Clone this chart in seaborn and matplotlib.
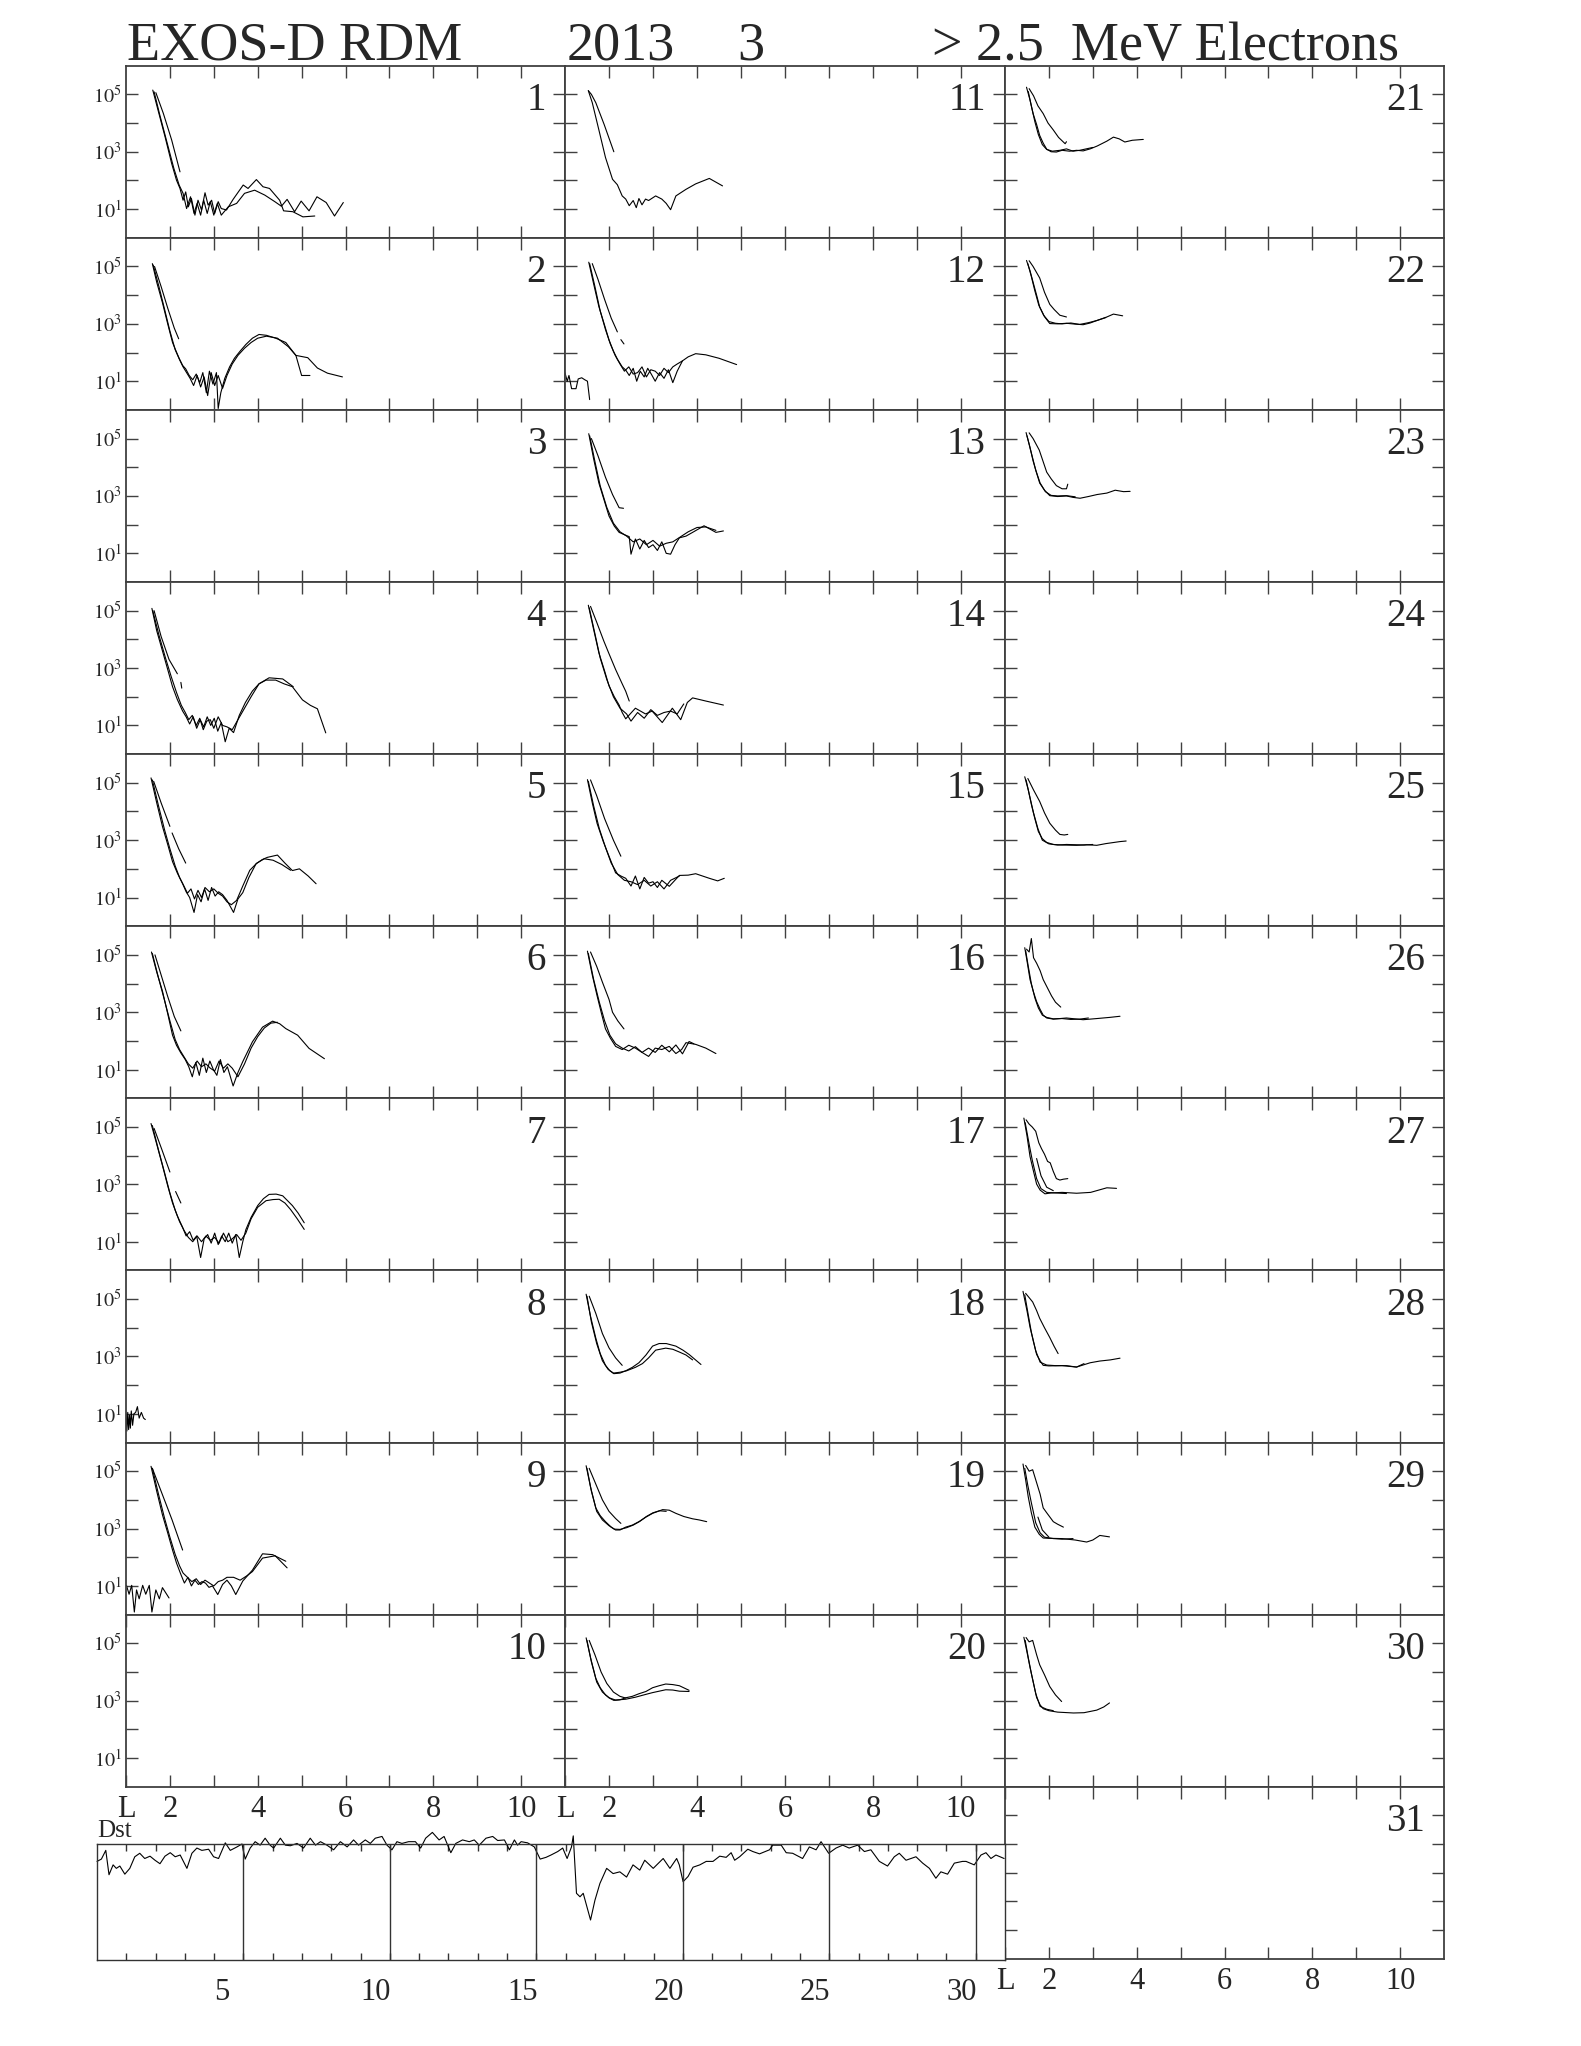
import numpy as np
import matplotlib
matplotlib.use("Agg")
import matplotlib.pyplot as plt
from matplotlib.ticker import NullLocator
import seaborn as sns

# flux profiles per day: (L values, log10 flux)
day01 = [
    ([1.61, 1.73, 1.89, 2.04, 2.15, 2.23, 2.30, 2.36, 2.42, 2.49, 2.57, 2.64, 2.72, 2.80, 2.87, 2.95, 3.02, 3.10, 3.17, 3.29, 3.44, 3.67, 3.78, 3.97, 4.12, 4.27, 4.50, 4.59, 4.80, 5.03, 5.30],
     [5.15, 4.45, 3.52, 2.59, 2.01, 1.72, 1.31, 1.60, 1.08, 1.37, 0.79, 1.31, 0.97, 1.57, 1.14, 1.31, 0.85, 1.26, 1.02, 0.97, 1.34, 1.84, 1.72, 2.03, 1.78, 1.72, 1.31, 0.94, 0.91, 0.73, 0.76]),
    ([1.64, 1.77, 1.94, 2.09, 2.21, 2.30, 2.38, 2.47, 2.55, 2.62, 2.70, 2.77, 2.85, 2.92, 3.00, 3.08, 3.17, 3.33, 3.52, 3.70, 3.93, 4.16, 4.39, 4.54, 4.67, 4.84, 4.99, 5.17, 5.35, 5.56, 5.75, 5.95],
     [5.09, 4.28, 3.29, 2.42, 1.84, 1.55, 1.02, 1.43, 0.85, 1.20, 0.79, 1.31, 0.85, 1.26, 0.79, 1.20, 0.79, 1.08, 1.20, 1.55, 1.66, 1.49, 1.26, 1.10, 1.34, 0.91, 1.28, 0.94, 1.43, 1.23, 0.76, 1.23]),
    ([1.68, 1.85, 2.04, 2.23], [5.06, 4.34, 3.41, 2.30]),
]
day02 = [
    ([1.6, 1.7, 1.83, 1.95, 2.06, 2.14, 2.21, 2.29, 2.36, 2.44, 2.52, 2.6, 2.68, 2.75, 2.83, 2.9, 2.98, 3.06, 3.1, 3.16, 3.25, 3.36, 3.47, 3.6, 3.73, 3.88, 4.03, 4.2, 4.41, 4.64, 4.87, 5.0, 5.19],
     [5.1, 4.45, 3.74, 3.0, 2.35, 2.05, 1.8, 1.55, 1.43, 1.2, 1.05, 1.25, 0.95, 1.3, 0.6, 1.35, 0.9, 1.3, 0.05, 0.6, 1.1, 1.5, 1.8, 2.05, 2.28, 2.5, 2.63, 2.6, 2.5, 2.35, 1.9, 1.2, 1.2]),
    ([1.62, 1.75, 1.88, 2.0, 2.12, 2.22, 2.3, 2.38, 2.46, 2.54, 2.62, 2.7, 2.78, 2.86, 2.94, 3.02, 3.1, 3.2, 3.3, 3.42, 3.55, 3.7, 3.85, 4.0, 4.2, 4.45, 4.7, 4.87, 5.14, 5.36, 5.59, 5.93],
     [5.05, 4.3, 3.5, 2.75, 2.1, 1.75, 1.5, 1.3, 1.1, 0.85, 1.2, 0.8, 1.15, 0.5, 1.3, 0.85, 1.2, 0.75, 1.2, 1.6, 1.9, 2.15, 2.35, 2.5, 2.57, 2.5, 2.2, 1.9, 1.82, 1.46, 1.28, 1.15]),
    ([1.65, 1.8, 1.95, 2.1, 2.2], [5.0, 4.3, 3.55, 2.85, 2.48]),
]
day03 = []
day04 = [
    ([1.59, 1.7, 1.83, 1.95, 2.06, 2.17, 2.29, 2.37, 2.45, 2.53, 2.61, 2.69, 2.77, 2.85, 2.93, 3.01, 3.09, 3.17, 3.26, 3.35, 3.45, 3.58, 3.72, 3.88, 4.03, 4.19, 4.41, 4.6, 4.79, 5.02, 5.2, 5.36, 5.55],
     [5.08, 4.3, 3.6, 2.95, 2.35, 1.9, 1.5, 1.3, 1.05, 1.3, 0.9, 1.2, 0.95, 1.3, 1.0, 1.25, 0.8, 1.1, 0.43, 0.9, 0.75, 1.35, 1.8, 2.2, 2.45, 2.58, 2.58, 2.45, 2.35, 1.89, 1.7, 1.58, 0.74]),
    ([1.61, 1.75, 1.9, 2.03, 2.15, 2.26, 2.35, 2.43, 2.51, 2.6, 2.68, 2.76, 2.84, 2.92, 3.0, 3.1, 3.2, 3.3, 3.42, 3.55, 3.7, 3.85, 4.03, 4.26, 4.57, 4.81],
     [5.0, 4.15, 3.35, 2.7, 2.15, 1.7, 1.45, 1.2, 1.35, 1.0, 1.25, 0.85, 1.15, 1.2, 0.9, 1.3, 1.0, 0.95, 0.85, 1.2, 1.6, 2.0, 2.45, 2.66, 2.62, 2.35]),
    ([1.64, 1.8, 1.98, 2.17], [5.0, 4.1, 3.3, 2.8]),
    ([2.25, 2.27], [2.5, 2.3]),
]
day05 = [
    ([1.57, 1.7, 1.83, 1.95, 2.06, 2.17, 2.29, 2.37, 2.45, 2.55, 2.63, 2.71, 2.79, 2.87, 2.95, 3.03, 3.11, 3.2, 3.3, 3.45, 3.55, 3.66, 3.8, 3.96, 4.1, 4.22, 4.45, 4.62, 4.79, 4.95, 5.15, 5.33],
     [5.17, 4.3, 3.48, 2.85, 2.25, 1.85, 1.48, 1.2, 1.0, 0.48, 1.1, 0.85, 1.3, 0.9, 1.35, 1.05, 1.2, 1.1, 0.9, 0.48, 0.95, 1.17, 1.7, 2.17, 2.32, 2.4, 2.48, 2.2, 1.94, 2.0, 1.75, 1.48]),
    ([1.6, 1.74, 1.88, 2.0, 2.12, 2.22, 2.32, 2.4, 2.48, 2.56, 2.64, 2.72, 2.8, 2.9, 3.0, 3.1, 3.2, 3.3, 3.4, 3.52, 3.66, 3.82, 3.98, 4.15, 4.35, 4.55, 4.75],
     [5.1, 4.2, 3.35, 2.7, 2.1, 1.7, 1.4, 1.15, 1.3, 0.95, 1.25, 1.0, 1.35, 1.2, 1.3, 1.15, 1.05, 0.85, 0.75, 0.9, 1.4, 1.95, 2.2, 2.35, 2.3, 2.15, 1.95]),
    ([1.63, 1.8, 2.0], [5.05, 4.3, 3.48]),
    ([2.05, 2.2, 2.36], [3.25, 2.7, 2.2]),
]
day06 = [
    ([1.58, 1.7, 1.83, 1.95, 2.06, 2.15, 2.25, 2.35, 2.43, 2.51, 2.59, 2.67, 2.75, 2.83, 2.91, 2.99, 3.07, 3.15, 3.23, 3.31, 3.44, 3.55, 3.66, 3.88, 4.11, 4.34, 4.5, 4.64, 4.91, 5.17, 5.52],
     [5.1, 4.4, 3.74, 2.95, 2.2, 1.85, 1.58, 1.35, 1.1, 0.75, 1.25, 0.8, 1.4, 0.9, 1.3, 1.0, 0.8, 1.35, 0.9, 1.1, 0.43, 0.9, 1.28, 1.97, 2.48, 2.69, 2.6, 2.43, 2.2, 1.74, 1.38]),
    ([1.6, 1.74, 1.88, 2.0, 2.12, 2.22, 2.32, 2.42, 2.52, 2.62, 2.72, 2.82, 2.92, 3.02, 3.12, 3.22, 3.32, 3.42, 3.55, 3.7, 3.85, 4.0, 4.15, 4.3, 4.45],
     [5.05, 4.2, 3.4, 2.7, 2.05, 1.7, 1.45, 1.2, 1.05, 1.3, 1.1, 1.2, 1.05, 0.95, 1.3, 1.05, 1.2, 1.05, 0.75, 1.2, 1.75, 2.15, 2.45, 2.62, 2.65]),
    ([1.66, 1.8, 1.95, 2.1, 2.25], [5.0, 4.3, 3.55, 2.85, 2.35]),
]
day07 = [
    ([1.57, 1.7, 1.83, 1.95, 2.06, 2.17, 2.29, 2.37, 2.45, 2.53, 2.61, 2.7, 2.78, 2.86, 2.94, 3.02, 3.1, 3.18, 3.26, 3.34, 3.42, 3.5, 3.58, 3.66, 3.73, 3.85, 4.0, 4.13, 4.26, 4.42, 4.57, 4.79, 4.92, 5.06],
     [5.12, 4.4, 3.66, 2.95, 2.35, 1.9, 1.5, 1.2, 1.35, 1.05, 1.2, 0.45, 1.1, 1.25, 0.95, 1.3, 0.9, 1.2, 1.0, 1.3, 0.95, 1.25, 0.45, 1.0, 1.42, 1.85, 2.26, 2.5, 2.65, 2.66, 2.6, 2.26, 2.0, 1.66]),
    ([1.6, 1.74, 1.88, 2.0, 2.12, 2.22, 2.32, 2.42, 2.52, 2.62, 2.72, 2.82, 2.92, 3.02, 3.12, 3.22, 3.32, 3.42, 3.52, 3.62, 3.73, 3.85, 4.0, 4.19, 4.35, 4.49, 4.62, 4.75, 4.9, 5.06],
     [5.05, 4.2, 3.4, 2.7, 2.1, 1.7, 1.4, 1.15, 1.0, 1.2, 1.0, 1.2, 1.05, 1.15, 0.95, 1.3, 1.0, 1.1, 1.25, 1.05, 1.3, 1.8, 2.2, 2.43, 2.47, 2.48, 2.35, 2.12, 1.8, 1.43]),
    ([1.64, 1.82, 2.0], [4.95, 4.2, 3.43]),
    ([2.13, 2.25], [2.75, 2.35]),
]
day08 = [
    ([1.0, 1.02, 1.04, 1.06, 1.08, 1.1, 1.12, 1.15, 1.18, 1.22, 1.26, 1.3, 1.35, 1.4, 1.44],
     [1.0, 0.4, 1.05, 0.45, 0.95, 0.5, 1.1, 0.6, 1.0, 1.05, 1.25, 0.85, 1.05, 0.85, 0.8]),
]
day09 = [
    ([1.57, 1.7, 1.83, 1.95, 2.06, 2.15, 2.25, 2.33, 2.41, 2.49, 2.57, 2.65, 2.73, 2.81, 2.89, 2.97, 3.09, 3.2, 3.3, 3.4, 3.5, 3.66, 3.88, 4.11, 4.34, 4.64],
     [5.17, 4.3, 3.48, 2.85, 2.25, 1.8, 1.4, 1.1, 1.3, 1.0, 1.2, 1.05, 1.15, 1.1, 0.95, 1.0, 0.7, 1.05, 1.2, 1.0, 0.7, 1.17, 1.55, 2.12, 2.09, 1.86]),
    ([1.6, 1.74, 1.88, 2.0, 2.12, 2.22, 2.3, 2.4, 2.5, 2.6, 2.7, 2.8, 2.9, 3.0, 3.1, 3.2, 3.3, 3.45, 3.6, 3.75, 3.88, 4.11, 4.4, 4.67],
     [5.1, 4.2, 3.35, 2.7, 2.1, 1.7, 1.45, 1.3, 1.15, 1.25, 1.05, 1.2, 1.1, 1.0, 1.15, 1.2, 1.3, 1.3, 1.2, 1.35, 1.5, 1.97, 2.05, 1.63]),
    ([1.6, 1.8, 2.05, 2.29], [5.1, 4.3, 3.3, 2.25]),
    ([1.01, 1.07, 1.13, 1.19, 1.24, 1.30, 1.38, 1.45, 1.53, 1.59, 1.68, 1.76, 1.83, 1.98],
     [1.02, 0.71, 1.02, 0.09, 0.86, 0.55, 1.02, 0.71, 1.02, 0.09, 0.86, 0.55, 0.94, 0.58]),
]
day10 = []
day11 = [
    ([1.53, 1.62, 1.77, 1.92, 2.08, 2.19, 2.3, 2.38, 2.46, 2.55, 2.62, 2.68, 2.75, 2.83, 2.9, 3.06, 3.2, 3.3, 3.4, 3.52, 3.75, 3.97, 4.28, 4.58],
     [5.13, 4.71, 3.76, 2.8, 2.04, 1.85, 1.46, 1.35, 1.12, 1.3, 1.05, 1.37, 1.15, 1.35, 1.3, 1.46, 1.35, 1.2, 0.98, 1.46, 1.69, 1.88, 2.07, 1.81]),
    ([1.53, 1.6, 1.7, 1.89, 2.11], [5.13, 5.0, 4.71, 3.95, 3.0]),
]
day12 = [
    ([1.54, 1.65, 1.77, 1.9, 2.0, 2.1, 2.19, 2.3, 2.38, 2.46, 2.55, 2.63, 2.71, 2.8, 2.88, 2.96, 3.05, 3.15, 3.25, 3.35, 3.45, 3.55, 3.67, 3.8, 3.97, 4.2, 4.5, 4.9],
     [5.15, 4.4, 3.6, 2.95, 2.44, 2.05, 1.77, 1.5, 1.39, 1.2, 1.45, 1.0, 1.35, 1.15, 1.45, 1.25, 1.0, 1.3, 1.1, 1.4, 0.95, 1.35, 1.71, 1.85, 1.96, 1.92, 1.8, 1.58]),
    ([1.56, 1.68, 1.8, 1.92, 2.03, 2.14, 2.25, 2.35, 2.45, 2.55, 2.65, 2.75, 2.85, 2.95, 3.05, 3.15, 3.25, 3.35, 3.45, 3.55, 3.67],
     [5.1, 4.3, 3.45, 2.8, 2.3, 1.9, 1.6, 1.35, 1.5, 1.25, 1.3, 1.5, 1.15, 1.4, 1.35, 1.2, 1.45, 1.3, 1.5, 1.6, 1.71]),
    ([1.62, 1.75, 1.9, 2.05, 2.19], [5.1, 4.55, 3.85, 3.2, 2.72]),
    ([2.27, 2.34], [2.45, 2.3]),
    ([1.0, 1.05, 1.09, 1.15, 1.25, 1.3, 1.38, 1.45, 1.51, 1.56], [1.29, 1.0, 1.2, 0.74, 0.74, 1.08, 1.12, 1.05, 1.0, 0.36]),
]
day13 = [
    ([1.54, 1.65, 1.77, 1.9, 2.0, 2.12, 2.23, 2.35, 2.46, 2.5, 2.6, 2.7, 2.8, 2.9, 3.0, 3.1, 3.2, 3.3, 3.4, 3.5, 3.6, 3.75, 3.9, 4.16, 4.43, 4.6],
     [5.17, 4.3, 3.45, 2.8, 2.3, 1.95, 1.73, 1.65, 1.58, 0.97, 1.5, 1.15, 1.45, 1.2, 1.3, 1.1, 1.4, 1.0, 0.97, 1.3, 1.54, 1.6, 1.73, 1.96, 1.73, 1.78]),
    ([1.56, 1.68, 1.8, 1.95, 2.1, 2.25, 2.4, 2.55, 2.7, 2.85, 3.0, 3.15, 3.3, 3.45, 3.6, 3.8, 4.0, 4.2, 4.43],
     [5.1, 4.2, 3.35, 2.6, 2.05, 1.75, 1.6, 1.4, 1.5, 1.3, 1.45, 1.25, 1.35, 1.4, 1.55, 1.75, 1.9, 1.92, 1.8]),
    ([1.6, 1.75, 1.92, 2.08, 2.23, 2.33], [5.0, 4.4, 3.65, 3.05, 2.59, 2.57]),
]
day14 = [
    ([1.53, 1.65, 1.77, 1.9, 2.0, 2.12, 2.23, 2.3, 2.38, 2.6, 2.83, 2.98, 3.21, 3.44, 3.63, 3.78, 3.9, 4.2, 4.6],
     [5.19, 4.35, 3.53, 2.9, 2.38, 2.0, 1.71, 1.45, 1.23, 1.6, 1.4, 1.5, 1.1, 1.6, 1.2, 1.8, 1.96, 1.85, 1.71]),
    ([1.55, 1.68, 1.8, 1.95, 2.1, 2.25, 2.4, 2.5, 2.65, 2.8, 2.95, 3.1, 3.25, 3.4, 3.55, 3.7],
     [5.1, 4.2, 3.35, 2.6, 2.0, 1.6, 1.4, 1.15, 1.45, 1.25, 1.55, 1.35, 1.45, 1.5, 1.4, 1.75]),
    ([1.58, 1.72, 1.88, 2.0, 2.15, 2.3, 2.38, 2.46], [5.15, 4.6, 3.95, 3.5, 2.95, 2.45, 2.19, 1.85]),
]
day15 = [
    ([1.51, 1.62, 1.73, 1.87, 2.0, 2.15, 2.27, 2.38, 2.5, 2.6, 2.7, 2.8, 2.9, 3.0, 3.1, 3.2, 3.37, 3.6, 3.8, 3.97, 4.28, 4.47, 4.62],
     [5.11, 4.3, 3.58, 2.95, 2.44, 1.86, 1.75, 1.67, 1.4, 1.75, 1.3, 1.7, 1.5, 1.55, 1.35, 1.6, 1.39, 1.77, 1.78, 1.83, 1.67, 1.58, 1.67]),
    ([1.53, 1.65, 1.78, 1.92, 2.05, 2.2, 2.35, 2.5, 2.65, 2.8, 2.95, 3.1, 3.25, 3.4, 3.6],
     [5.05, 4.2, 3.4, 2.75, 2.2, 1.8, 1.6, 1.55, 1.45, 1.6, 1.4, 1.55, 1.3, 1.6, 1.75]),
    ([1.58, 1.72, 1.9, 2.1, 2.27], [5.1, 4.55, 3.75, 3.0, 2.44]),
]
day16 = [
    ([1.51, 1.62, 1.73, 1.83, 1.92, 2.03, 2.15, 2.3, 2.45, 2.6, 2.75, 2.9, 3.05, 3.2, 3.37, 3.52, 3.65, 3.75, 3.97, 4.2, 4.43],
     [5.13, 4.3, 3.57, 2.95, 2.42, 2.1, 1.81, 1.7, 1.85, 1.75, 1.6, 1.46, 1.75, 1.7, 1.81, 1.56, 1.7, 1.94, 1.88, 1.75, 1.56]),
    ([1.53, 1.65, 1.78, 1.9, 2.02, 2.15, 2.3, 2.45, 2.6, 2.75, 2.9, 3.05, 3.2, 3.37, 3.52, 3.67, 3.82, 3.93],
     [5.05, 4.15, 3.35, 2.7, 2.2, 1.9, 1.75, 1.65, 1.8, 1.6, 1.75, 1.6, 1.85, 1.62, 1.86, 1.55, 1.98, 1.9]),
    ([1.58, 1.72, 1.85, 2.0, 2.08, 2.2, 2.34], [5.1, 4.6, 4.05, 3.45, 3.0, 2.7, 2.42]),
]
day17 = []
day18 = [
    ([1.48, 1.58, 1.7, 1.8, 1.92, 2.02, 2.11, 2.25, 2.38, 2.53, 2.68, 2.84, 2.99, 3.14, 3.3, 3.52, 3.68, 3.82, 4.09],
     [5.17, 4.4, 3.64, 3.1, 2.69, 2.5, 2.4, 2.42, 2.5, 2.62, 2.78, 3.05, 3.36, 3.45, 3.45, 3.36, 3.22, 3.07, 2.72]),
    ([1.5, 1.6, 1.72, 1.85, 1.98, 2.1, 2.25, 2.4, 2.6, 2.76, 2.9, 3.06, 3.29, 3.45, 3.59, 3.75, 3.9],
     [5.1, 4.2, 3.45, 2.85, 2.55, 2.42, 2.45, 2.5, 2.62, 2.75, 2.95, 3.22, 3.29, 3.25, 3.16, 3.05, 2.88]),
    ([1.55, 1.7, 1.85, 2.0, 2.15, 2.3], [5.1, 4.5, 3.8, 3.3, 2.95, 2.69]),
]
day19 = [
    ([1.48, 1.58, 1.7, 1.8, 1.92, 2.05, 2.15, 2.25, 2.38, 2.53, 2.68, 2.84, 2.99, 3.22, 3.37, 3.52, 3.7, 3.9, 4.05, 4.22],
     [5.19, 4.45, 3.72, 3.45, 3.24, 3.05, 2.95, 2.95, 3.05, 3.12, 3.24, 3.4, 3.53, 3.66, 3.64, 3.53, 3.42, 3.34, 3.3, 3.24]),
    ([1.5, 1.6, 1.72, 1.85, 2.0, 2.12, 2.25, 2.4, 2.55, 2.7, 2.85, 3.0, 3.15, 3.3],
     [5.1, 4.3, 3.6, 3.3, 3.1, 2.98, 2.97, 3.03, 3.12, 3.25, 3.42, 3.55, 3.62, 3.6]),
    ([1.55, 1.7, 1.85, 2.0, 2.15, 2.27], [5.1, 4.55, 4.0, 3.6, 3.35, 3.18]),
]
day20 = [
    ([1.48, 1.58, 1.7, 1.8, 1.92, 2.02, 2.11, 2.25, 2.38, 2.53, 2.68, 2.84, 2.99, 3.14, 3.29, 3.45, 3.6, 3.82],
     [5.19, 4.5, 3.78, 3.45, 3.2, 3.08, 3.01, 3.03, 3.1, 3.15, 3.24, 3.32, 3.45, 3.52, 3.58, 3.56, 3.52, 3.36]),
    ([1.5, 1.6, 1.72, 1.85, 2.0, 2.15, 2.38, 2.6, 2.84, 2.99, 3.14, 3.29, 3.45, 3.6, 3.82],
     [5.1, 4.35, 3.65, 3.3, 3.1, 3.02, 3.05, 3.12, 3.22, 3.28, 3.33, 3.38, 3.37, 3.33, 3.32]),
    ([1.55, 1.68, 1.82, 1.95, 2.1, 2.25, 2.38], [5.1, 4.6, 4.0, 3.6, 3.3, 3.15, 3.09]),
]
day21 = [
    ([1.49, 1.57, 1.64, 1.72, 1.79, 1.87, 1.95, 2.05, 2.17, 2.3, 2.47, 2.63, 2.78, 2.94, 3.1, 3.32, 3.47, 3.6, 3.73, 3.9, 4.15],
     [5.25, 4.8, 4.33, 3.95, 3.57, 3.3, 3.09, 3.0, 2.99, 3.05, 3.02, 3.05, 3.03, 3.1, 3.2, 3.37, 3.51, 3.45, 3.34, 3.4, 3.43]),
    ([1.53, 1.6, 1.68, 1.76, 1.85, 1.95, 2.08, 2.25, 2.4, 2.55, 2.7, 2.85, 3.0],
     [5.1, 4.6, 4.05, 3.6, 3.25, 3.08, 3.02, 3.05, 3.1, 3.02, 3.05, 3.1, 3.15]),
    ([1.55, 1.65, 1.75, 1.87, 1.98, 2.1, 2.22, 2.37, 2.4], [5.2, 4.95, 4.6, 4.33, 4.0, 3.76, 3.5, 3.28, 3.35]),
]
day22 = [
    ([1.49, 1.57, 1.64, 1.72, 1.79, 1.9, 2.02, 2.2, 2.4, 2.6, 2.78, 2.94, 3.1, 3.32, 3.47, 3.68],
     [5.21, 4.85, 4.45, 4.0, 3.59, 3.25, 3.01, 3.0, 3.02, 2.99, 2.97, 3.03, 3.12, 3.24, 3.34, 3.28]),
    ([1.52, 1.6, 1.68, 1.77, 1.88, 2.0, 2.15, 2.3, 2.5, 2.7, 2.9, 3.1, 3.3],
     [5.1, 4.65, 4.15, 3.65, 3.3, 3.08, 3.02, 3.0, 3.03, 2.98, 3.04, 3.12, 3.22]),
    ([1.55, 1.64, 1.79, 1.9, 2.02, 2.12, 2.25, 2.4], [5.2, 5.0, 4.6, 4.1, 3.68, 3.5, 3.3, 3.24]),
]
day23 = [
    ([1.48, 1.56, 1.64, 1.72, 1.79, 1.9, 2.02, 2.2, 2.4, 2.55, 2.71, 2.9, 3.1, 3.32, 3.51, 3.7, 3.85],
     [5.21, 4.75, 4.22, 3.8, 3.45, 3.2, 3.01, 2.98, 3.0, 2.95, 2.92, 2.98, 3.05, 3.1, 3.2, 3.15, 3.16]),
    ([1.5, 1.6, 1.7, 1.8, 1.92, 2.05, 2.2, 2.4, 2.6], [5.1, 4.5, 3.9, 3.45, 3.15, 3.02, 3.0, 3.01, 2.97]),
    ([1.55, 1.64, 1.78, 1.95, 2.05, 2.17, 2.3, 2.4, 2.43], [5.2, 5.0, 4.6, 3.83, 3.6, 3.36, 3.25, 3.25, 3.41]),
]
day24 = []
day25 = [
    ([1.45, 1.53, 1.6, 1.68, 1.76, 1.85, 1.95, 2.1, 2.3, 2.63, 2.86, 3.09, 3.3, 3.62, 3.76],
     [5.21, 4.75, 4.25, 3.75, 3.3, 3.05, 2.92, 2.85, 2.83, 2.82, 2.84, 2.82, 2.88, 2.95, 2.97]),
    ([1.48, 1.56, 1.65, 1.75, 1.85, 2.0, 2.2, 2.4, 2.6, 2.8, 3.0], [5.1, 4.55, 3.95, 3.4, 3.0, 2.87, 2.83, 2.85, 2.84, 2.83, 2.85]),
    ([1.52, 1.65, 1.79, 1.9, 2.02, 2.15, 2.25, 2.35, 2.43], [5.15, 4.75, 4.35, 3.95, 3.59, 3.35, 3.2, 3.18, 3.2]),
]
day26 = [
    ([1.45, 1.5, 1.57, 1.65, 1.72, 1.8, 1.87, 1.95, 2.1, 2.4, 2.78, 3.09, 3.38, 3.62],
     [5.25, 4.8, 4.14, 3.7, 3.37, 3.1, 2.9, 2.8, 2.76, 2.8, 2.74, 2.78, 2.82, 2.86]),
    ([1.47, 1.53, 1.6, 1.68, 1.76, 1.85, 1.95, 2.1, 2.3, 2.5, 2.7, 2.9], [5.15, 4.6, 4.0, 3.5, 3.15, 2.9, 2.82, 2.77, 2.78, 2.75, 2.76, 2.8]),
    ([1.49, 1.55, 1.6, 1.65, 1.72, 1.8, 1.87, 1.95, 2.06, 2.15, 2.27], [5.2, 5.1, 5.57, 4.9, 4.71, 4.45, 4.14, 3.9, 3.57, 3.35, 3.18]),
]
day27 = [
    ([1.43, 1.5, 1.57, 1.65, 1.72, 1.8, 1.91, 2.05, 2.3, 2.63, 2.95, 3.32, 3.54],
     [5.31, 4.7, 3.97, 3.45, 3.01, 2.8, 2.67, 2.7, 2.72, 2.69, 2.72, 2.88, 2.86]),
    ([1.46, 1.55, 1.62, 1.72, 1.82, 1.95, 2.15, 2.4], [5.15, 4.4, 3.85, 3.2, 2.85, 2.72, 2.7, 2.68]),
    ([1.48, 1.55, 1.62, 1.7, 1.77, 1.83, 1.9, 1.97, 2.03, 2.1, 2.17, 2.25, 2.33, 2.43],
     [5.25, 5.1, 5.0, 4.85, 4.45, 4.25, 4.05, 3.8, 3.75, 3.45, 3.2, 3.15, 3.18, 3.2]),
    ([1.72, 1.82, 1.95, 2.1], [3.9, 3.3, 2.9, 2.78]),
]
day28 = [
    ([1.41, 1.5, 1.57, 1.65, 1.72, 1.8, 1.87, 2.0, 2.3, 2.63, 2.94, 3.16, 3.4, 3.62],
     [5.27, 4.6, 4.02, 3.5, 3.07, 2.85, 2.69, 2.67, 2.68, 2.63, 2.78, 2.84, 2.88, 2.94]),
    ([1.45, 1.53, 1.6, 1.7, 1.8, 1.95, 2.15, 2.4, 2.63, 2.8], [5.15, 4.45, 3.85, 3.2, 2.8, 2.7, 2.68, 2.68, 2.63, 2.75]),
    ([1.47, 1.55, 1.63, 1.72, 1.79, 1.9, 2.02, 2.12, 2.21], [5.2, 5.05, 4.9, 4.6, 4.33, 4.0, 3.66, 3.35, 3.1]),
]
day29 = [
    ([1.41, 1.47, 1.53, 1.6, 1.68, 1.78, 1.87, 2.0, 2.3, 2.6, 2.86, 3.0, 3.16, 3.38],
     [5.25, 4.7, 4.1, 3.55, 3.05, 2.8, 2.67, 2.66, 2.65, 2.6, 2.53, 2.6, 2.76, 2.71]),
    ([1.45, 1.52, 1.6, 1.7, 1.8, 1.9, 2.1, 2.3, 2.55], [5.1, 4.5, 3.9, 3.2, 2.85, 2.7, 2.65, 2.63, 2.65]),
    ([1.75, 1.85, 2.0], [3.4, 2.95, 2.7]),
    ([1.47, 1.55, 1.63, 1.72, 1.8, 1.87, 1.95, 2.1, 2.2, 2.33], [5.2, 5.0, 5.05, 4.6, 4.2, 3.72, 3.55, 3.24, 3.15, 3.05]),
]
day30 = [
    ([1.43, 1.5, 1.57, 1.65, 1.72, 1.8, 1.87, 2.0, 2.2, 2.56, 2.8, 3.09, 3.25, 3.38],
     [5.21, 4.7, 4.16, 3.6, 3.11, 2.85, 2.72, 2.65, 2.6, 2.57, 2.58, 2.67, 2.78, 2.92]),
    ([1.46, 1.53, 1.6, 1.7, 1.8, 1.95, 2.1], [5.1, 4.5, 3.95, 3.25, 2.8, 2.7, 2.65]),
    ([1.48, 1.55, 1.63, 1.72, 1.79, 1.9, 2.02, 2.15, 2.29], [5.2, 5.05, 5.1, 4.6, 4.25, 3.9, 3.49, 3.2, 2.97]),
]
day31 = []

# Dst index (day of month from 0, nT)
dst_day = [0.0, 0.15, 0.30, 0.41, 0.55, 0.66, 0.78, 0.95, 1.12, 1.29, 1.46, 1.63, 1.81, 1.98, 2.15, 2.32, 2.5, 2.67, 2.84, 3.07,
           3.24, 3.41, 3.58, 3.81, 3.98, 4.15, 4.38, 4.55, 4.78, 4.95, 5.06, 5.23, 5.4, 5.57, 5.74, 5.91, 6.03, 6.26, 6.43, 6.6,
           6.83, 7.05, 7.28, 7.46, 7.63, 7.85, 8.08, 8.31, 8.54, 8.76, 8.93, 9.16, 9.33, 9.5, 9.73, 9.9, 10.07, 10.24, 10.41, 10.64,
           10.87, 11.05, 11.22, 11.45, 11.68, 11.85, 12.08, 12.25, 12.48, 12.71, 12.88, 13.05, 13.28, 13.51, 13.68, 13.91, 14.08, 14.25, 14.36, 14.48,
           14.7, 14.93, 15.13, 15.33, 15.5, 15.73, 15.9, 16.05, 16.2, 16.26, 16.37, 16.49, 16.6, 16.71, 16.85, 17.0, 17.17, 17.4, 17.62, 17.85,
           18.08, 18.3, 18.53, 18.7, 18.99, 19.33, 19.56, 19.79, 19.88, 20.01, 20.18, 20.35, 20.58, 20.8, 21.03, 21.26, 21.48, 21.65, 21.77, 21.94,
           22.22, 22.39, 22.62, 22.96, 23.07, 23.36, 23.53, 23.75, 24.09, 24.32, 24.55, 24.72, 24.98, 25.23, 25.46, 25.68, 25.97, 26.2, 26.42, 26.71,
           26.99, 27.22, 27.39, 27.62, 27.96, 28.19, 28.42, 28.64, 28.81, 29.04, 29.27, 29.55, 29.67, 29.95, 30.18, 30.35, 30.52, 30.69, 30.97]
dst_val = [-30, -26, -11, -53, -36, -42, -38, -52, -42, -22, -16, -25, -21, -28, -34, -21, -15, -22, -19, -42,
           -16, -7, -11, -9, -22, -25, 2, -11, -5, 0, -26, -7, 4, -2, 10, -2, -7, 10, -2, -3,
           1, -7, 10, -2, 4, -2, -10, 4, -5, 7, -2, 7, 1, 10, 13, -2, -10, 4, 1, 4,
           4, -7, 10, 20, 7, 13, -15, 1, 7, 4, 7, -2, 10, 13, 6, 7, -10, 7, -2, 4,
           2, -5, -26, -23, -19, -13, -7, -25, -5, 14, -85, -91, -85, -105, -131, -97, -68, -42, -51, -48,
           -57, -36, -45, -28, -42, -25, -42, -25, -36, -65, -56, -40, -36, -30, -30, -21, -23, -15, -28, -22,
           -9, -13, -17, -10, -2, -2, -15, -16, -25, -5, -10, 4, -16, -7, -2, -7, -2, -13, -10, -30,
           -38, -22, -16, -28, -22, -33, -42, -59, -48, -52, -33, -30, -30, -36, -19, -15, -25, -19, -25]

title_parts = ["EXOS-D RDM", "2013", "3", "> 2.5  MeV Electrons"]
title_x = [127, 567, 737, 932]
dst_labels = ["5", "10", "15", "20", "25", "30"]
l_labels = ["L", "2", "", "4", "", "6", "", "8", "", "10"]

days = [day01, day02, day03, day04, day05, day06, day07, day08, day09, day10,
        day11, day12, day13, day14, day15, day16, day17, day18, day19, day20,
        day21, day22, day23, day24, day25, day26, day27, day28, day29, day30, day31]

sns.set_style("ticks")
plt.rcParams['font.family'] = ['Liberation Serif', 'DejaVu Serif']
plt.rcParams['mathtext.fontset'] = 'stix'

W, H = 1581, 2046
fig = plt.figure(figsize=(W / 100, H / 100), dpi=100)


def box(x0, y0, x1, y1):
    return [x0 / W, 1 - y1 / H, (x1 - x0) / W, (y1 - y0) / H]


col_x = [126, 565, 1005, 1444]
top0, row_h = 65.7, 172.1
frame = '#404040'

for i, curves in enumerate(days):
    d = i + 1
    col, row = (i // 10, i % 10) if d < 31 else (2, 10)
    y0 = top0 + row * row_h
    ax = fig.add_axes(box(col_x[col], y0, col_x[col + 1], y0 + row_h))
    for L, lg in curves:
        sns.lineplot(x=np.array(L), y=10 ** np.array(lg), ax=ax, sort=False,
                     estimator=None, color='black', lw=0.8)
    ax.set_yscale('log')
    ax.set_xlim(1, 11)
    ax.set_ylim(1, 1e6)
    ax.yaxis.set_minor_locator(NullLocator())
    ax.set_yticks([1e1, 1e2, 1e3, 1e4, 1e5])
    if col == 0:
        ax.set_yticklabels(['$10^{1}$', '', '$10^{3}$', '', '$10^{5}$'], fontsize=14.5)
    else:
        ax.set_yticklabels([])
    bottom = (row == 9 and col < 2) or d == 31
    if bottom:
        ax.set_xticks(range(1, 11))
        ax.set_xticklabels(l_labels, fontsize=22)
    else:
        ax.set_xticks(range(2, 11))
        ax.set_xticklabels([])
    ax.tick_params(which='both', direction='in', top=True, right=True,
                   length=8.6, width=1.0, color=frame)
    ax.tick_params(axis='y', pad=3)
    ax.tick_params(axis='x', pad=6)
    for s in ax.spines.values():
        s.set_color(frame)
        s.set_linewidth(1.3)
    ax.set_xlabel('')
    ax.set_ylabel('')
    ax.text(1 - 19 / 439.5, 1 - 44.3 / row_h, str(d), transform=ax.transAxes,
            ha='right', va='baseline', fontsize=28)

# Dst panel
axd = fig.add_axes(box(97, 1844, 1005, 1960))
sns.lineplot(x=np.array(dst_day), y=np.array(dst_val), ax=axd, sort=False,
             estimator=None, color='black', lw=0.8, clip_on=False)
axd.set_xlim(0, 31)
axd.set_ylim(-200, 0)
for v in range(5, 31, 5):
    axd.axvline(v, color='#333333', lw=1.0)
axd.set_yticks([])
axd.set_xticks(range(1, 31))
axd.set_xticklabels([dst_labels[(k + 1) // 5 - 1] if (k + 1) % 5 == 0 else '' for k in range(1, 31)],
                    fontsize=22, ha='left')
axd.tick_params(axis='x', direction='in', top=True, bottom=True, length=5, width=1.0,
                color='#333333', pad=13)
for s in axd.spines.values():
    s.set_color('#333333')
    s.set_linewidth(1.0)
axd.set_xlabel('')
axd.set_ylabel('')
axd.text(0, 1 + 7 / 116, 'Dst', transform=axd.transAxes, ha='left', va='baseline', fontsize=18)

for s, x in zip(title_parts, title_x):
    fig.text(x / W, 1 - 60 / H, s, fontsize=39, ha='left', va='baseline')

fig.savefig('out.png', dpi=100)
